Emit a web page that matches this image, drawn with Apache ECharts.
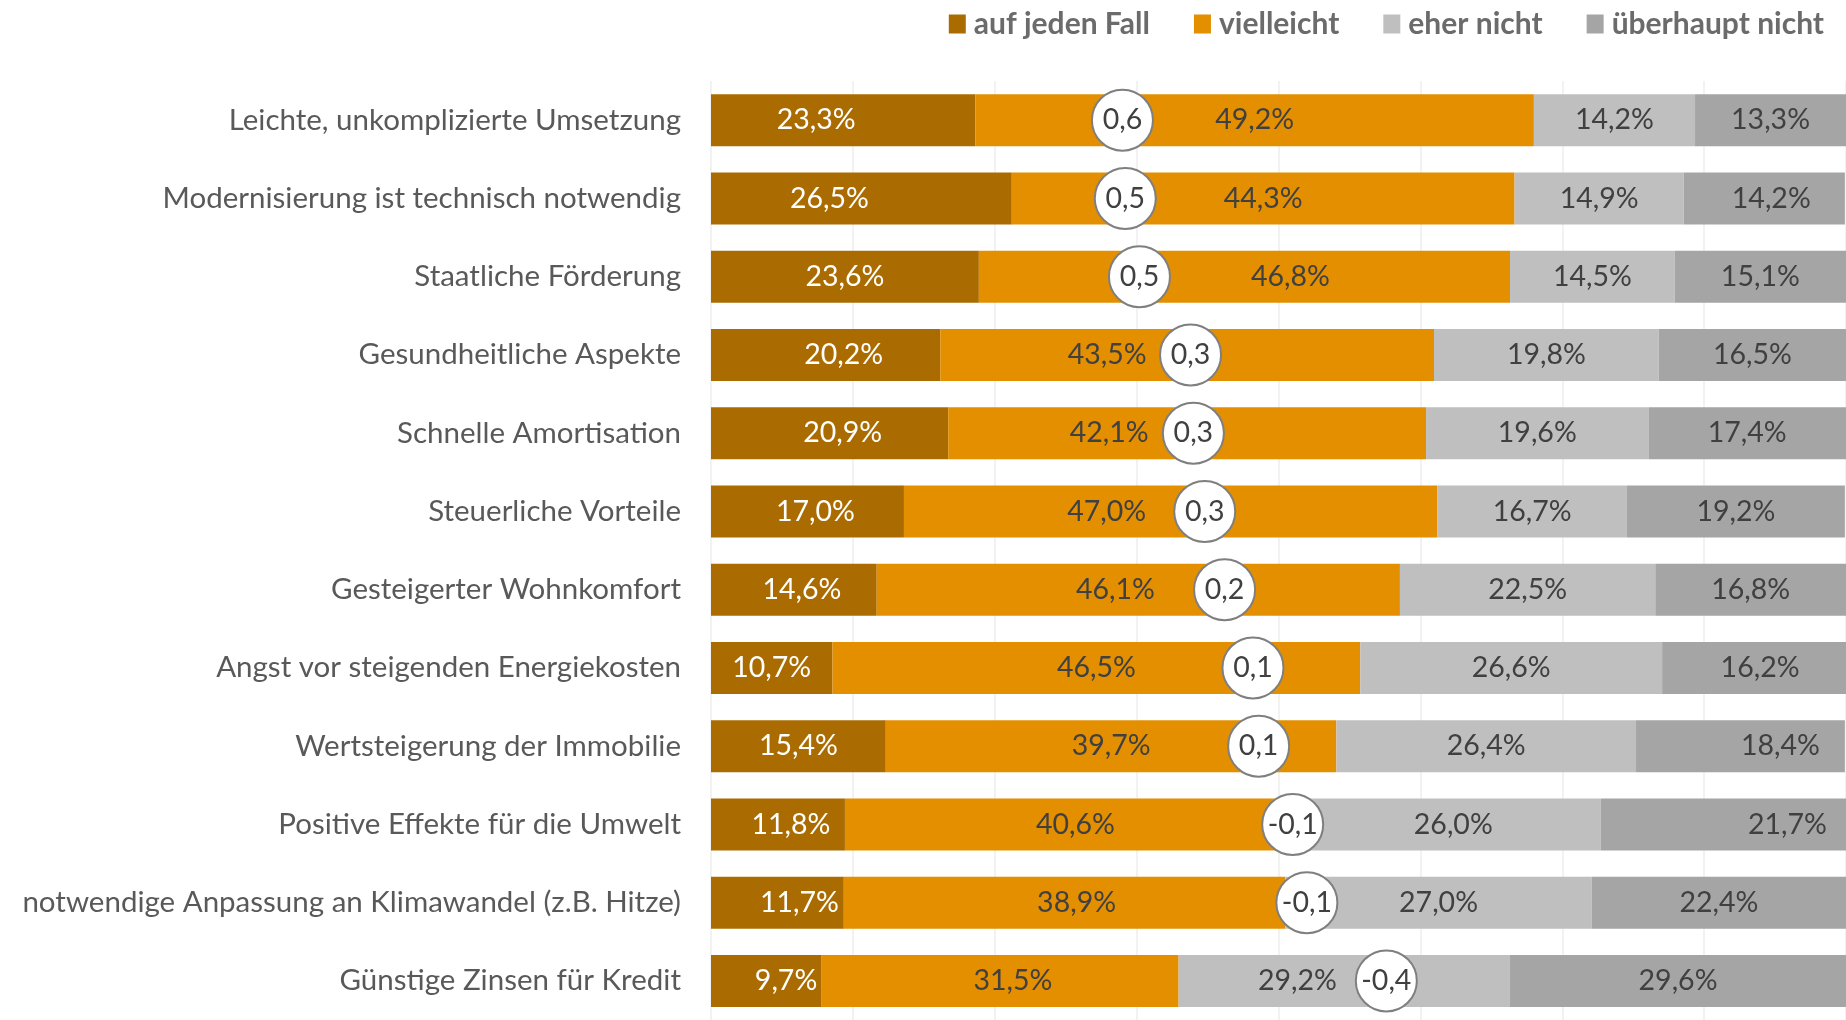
<!DOCTYPE html>
<html>
<head>
<meta charset="utf-8">
<script src="https://cdn.jsdelivr.net/npm/echarts@6/dist/echarts.min.js"></script>
<style>
  html, body { margin: 0; padding: 0; background: #fff; }
  #chart { width: 1846px; height: 1020px; }
</style>
</head>
<body>
<div id="chart"></div>
<script>
// Kategorien (oben nach unten)
const categories = [
  'Leichte, unkomplizierte Umsetzung',
  'Modernisierung ist technisch notwendig',
  'Staatliche Förderung',
  'Gesundheitliche Aspekte',
  'Schnelle Amortisation',
  'Steuerliche Vorteile',
  'Gesteigerter Wohnkomfort',
  'Angst vor steigenden Energiekosten',
  'Wertsteigerung der Immobilie',
  'Positive Effekte für die Umwelt',
  'notwendige Anpassung an Klimawandel (z.B. Hitze)',
  'Günstige Zinsen für Kredit'
];

const seriesNames = ['auf jeden Fall', 'vielleicht', 'eher nicht', 'überhaupt nicht'];

// Anteile in %
const aufJedenFall  = [23.3, 26.5, 23.6, 20.2, 20.9, 17.0, 14.6, 10.7, 15.4, 11.8, 11.7, 9.7];
const vielleicht    = [49.2, 44.3, 46.8, 43.5, 42.1, 47.0, 46.1, 46.5, 39.7, 40.6, 38.9, 31.5];
const eherNicht     = [14.2, 14.9, 14.5, 19.8, 19.6, 16.7, 22.5, 26.6, 26.4, 26.0, 27.0, 29.2];
const ueberhauptNicht = [13.3, 14.2, 15.1, 16.5, 17.4, 19.2, 16.8, 16.2, 18.4, 21.7, 22.4, 29.6];

// Mittelwerte (Skala -2 .. 2)
const means = [0.55, 0.54, 0.49, 0.31, 0.30, 0.26, 0.19, 0.09, 0.07, -0.05, -0.10, -0.38];

// Verschiebung der Beschriftungen (px), wie im Original verschoben
const labelShift = [
  [-27, 0, 0, 0],
  [-32, 0, 0, 7],
  [0, 46, 0, 0],
  [18, -80, 0, 0],
  [13, -78, 0, 0],
  [8, -64, 0, 0],
  [8, -23, 0, 0],
  [0, 0, 0, 6],
  [0, 0, 0, 40],
  [13, 0, 0, 64],
  [22, 12, 0, 0],
  [20, 13, -47, 0]
];

const colors = ['#AA6C00', '#E38F00', '#BFBFBF', '#A5A5A5'];
const labelColors = ['#FFFFFF', '#404040', '#404040', '#404040'];
const FONT = 'Lato, "Open Sans", sans-serif';

const chart = echarts.init(document.getElementById('chart'));

const values = [aufJedenFall, vielleicht, eherNicht, ueberhauptNicht];

const barSeries = values.map((arr, s) => ({
  name: seriesNames[s],
  type: 'bar',
  stack: 'total',
  barWidth: 52,
  xAxisIndex: 0,
  itemStyle: { color: colors[s] },
  label: {
    show: true,
    position: 'inside',
    color: labelColors[s],
    fontFamily: FONT,
    fontSize: 28.5,
    formatter: p => p.value.toFixed(1).replace('.', ',') + '%'
  },
  data: arr.map((v, i) => ({ value: v, label: { offset: [labelShift[i][s], 0] } })),
  z: 2
}));

const option = {
  animation: false,
  textStyle: { fontFamily: FONT },
  legend: {
    data: seriesNames,
    right: 17,
    top: 4,
    icon: 'rect',
    itemWidth: 17,
    itemHeight: 19,
    itemGap: 44,
    textStyle: { color: '#6B6B6B', fontSize: 30, fontWeight: 'bold', fontFamily: FONT, padding: [0, 0, 0, 3] }
  },
  grid: { left: 711, top: 81, width: 1140, height: 946, containLabel: false },
  xAxis: [
    {
      type: 'value', min: 0, max: 100, interval: 12.5,
      axisLabel: { show: false }, axisLine: { show: false }, axisTick: { show: false },
      splitLine: { show: true, lineStyle: { color: '#EEEEEE', width: 1.5 } }
    },
    {
      type: 'value', min: -2, max: 2, inverse: true, show: false,
      splitLine: { show: false }
    }
  ],
  yAxis: {
    type: 'category',
    data: categories,
    inverse: true,
    axisLine: { show: false },
    axisTick: { show: false },
    axisLabel: { color: '#595959', fontSize: 29.5, margin: 30, fontFamily: FONT }
  },
  series: barSeries.concat([{
    name: 'Mittelwert',
    type: 'scatter',
    xAxisIndex: 1,
    symbol: 'circle',
    symbolSize: 61,
    itemStyle: { color: '#FFFFFF', borderColor: '#7F7F7F', borderWidth: 2, opacity: 1 },
    label: {
      show: true,
      position: 'inside',
      color: '#404040',
      fontSize: 28.5,
      fontFamily: FONT,
      formatter: p => p.value[0].toFixed(1).replace('.', ',')
    },
    data: means.map((m, i) => [m, categories[i]]),
    z: 5
  }])
};

chart.setOption(option);
window.addEventListener('resize', () => chart.resize());
</script>
</body>
</html>
